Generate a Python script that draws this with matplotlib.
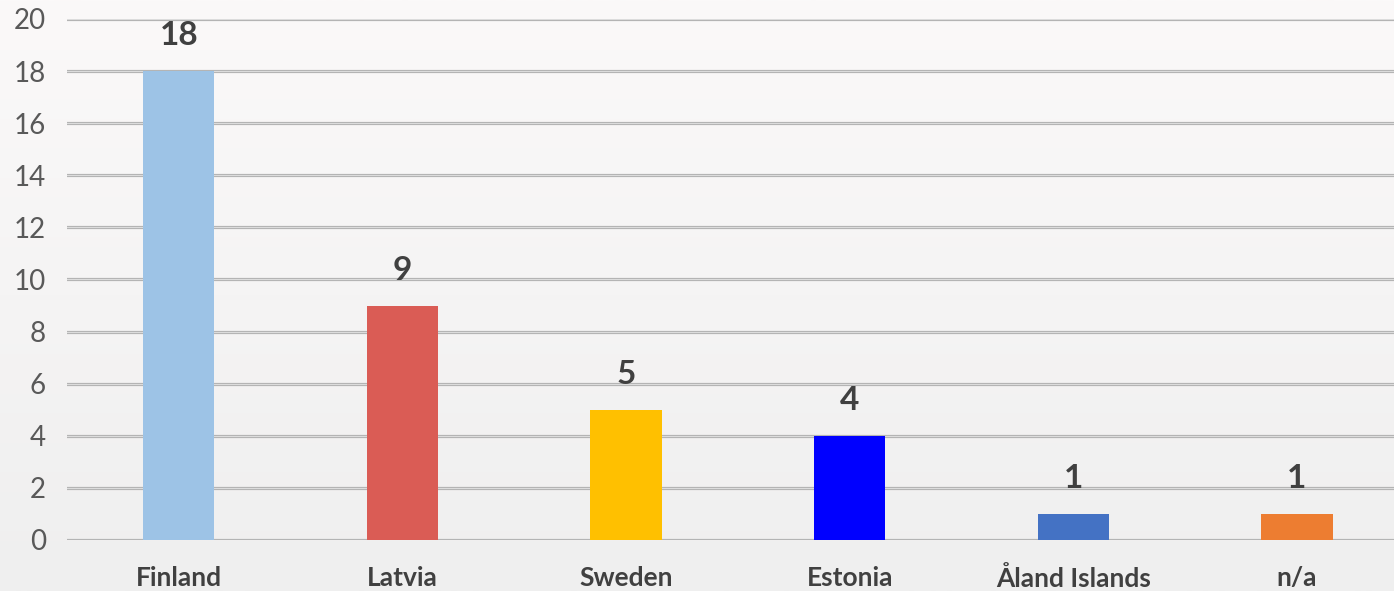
import numpy as np
import matplotlib
matplotlib.use("Agg")
import matplotlib.pyplot as plt

# data
countries = ["Finland", "Latvia", "Sweden", "Estonia", "Åland Islands", "n/a"]
counts = [18, 9, 5, 4, 1, 1]
bar_colors = ["#9DC3E6", "#DA5C55", "#FFC000", "#0000FF", "#4472C4", "#ED7D31"]
yticks = list(range(0, 21, 2))

plt.rcParams["font.family"] = ["Lato", "DejaVu Sans"]

fig = plt.figure(figsize=(13.94, 5.91), dpi=100)

# pale background, a little lighter at the top
bg = fig.add_axes([0, 0, 1, 1], zorder=-10)
grad = np.linspace(0, 1, 256).reshape(-1, 1)
bg.imshow(grad, aspect="auto", cmap=matplotlib.colors.LinearSegmentedColormap.from_list(
    "bg", ["#fbf9f9", "#efefef"]), extent=[0, 1, 0, 1])
bg.axis("off")

ax = fig.add_axes([0.048, 0.0863, 0.9626, 0.8816])
ax.patch.set_alpha(0)

x = np.arange(len(countries))
for y in yticks:
    ax.axhline(y, color="#b2b2b2", lw=2.3, zorder=1)
    ax.axhline(y, color="#dcdcdc", lw=0.8, zorder=1)

bars = ax.bar(x, counts, width=0.318, color=bar_colors, zorder=3)

for xi, v in zip(x, counts):
    ax.annotate(str(v), (xi, v), xytext=(0, 15), textcoords="offset points",
                ha="center", va="bottom", fontsize=24, fontweight="bold",
                color="#404040", zorder=4)

ax.set_xlim(-0.5, len(countries) - 0.5)
ax.set_ylim(0, 20)
ax.set_yticks(yticks)
ax.set_xticks(x)
ax.set_xticklabels(countries, fontsize=19, fontweight="bold", color="#404040")
ax.tick_params(axis="y", length=0, pad=15, labelsize=20, labelcolor="#595959")
ax.tick_params(axis="x", length=0, pad=19)
for s in ax.spines.values():
    s.set_visible(False)

plt.savefig("out.png", dpi=100)
